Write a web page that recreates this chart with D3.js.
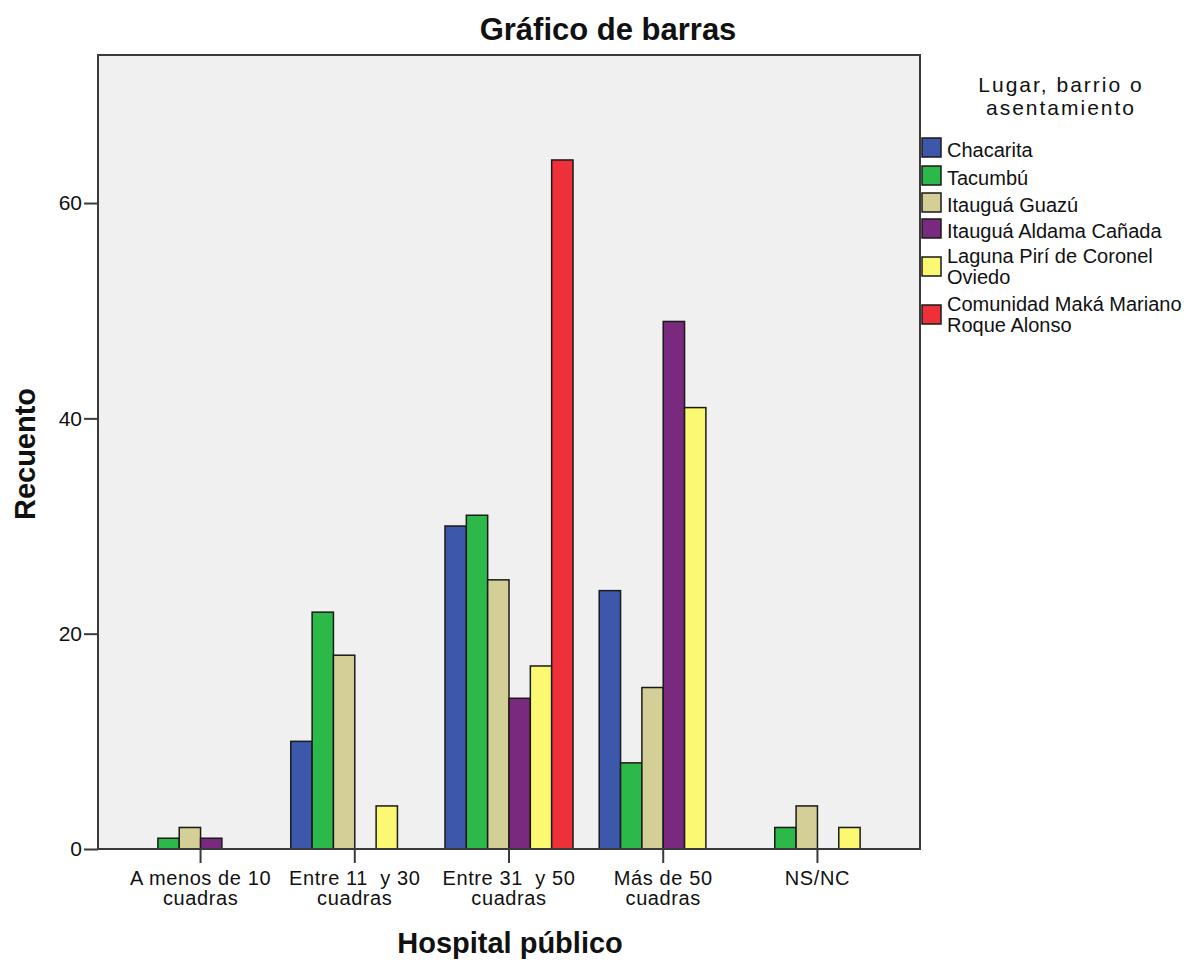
<!DOCTYPE html>
<html>
<head>
<meta charset="utf-8">
<script src="https://cdn.jsdelivr.net/npm/d3@7"></script>
<style>
  body { margin: 0; background: #fff; }
  text { font-family: "Liberation Sans", Arial, sans-serif; fill: #111; }
</style>
</head>
<body>
<div id="chart"></div>
<script>
// categorias del eje x (cada una en dos lineas)
var categories = [
  ['A menos de 10', 'cuadras'],
  ['Entre 11  y 30', 'cuadras'],
  ['Entre 31  y 50', 'cuadras'],
  ['Más de 50', 'cuadras'],
  ['NS/NC']
]
var seriesNames = [
  ['Chacarita'],
  ['Tacumbú'],
  ['Itauguá Guazú'],
  ['Itauguá Aldama Cañada'],
  ['Laguna Pirí de Coronel', 'Oviedo'],
  ['Comunidad Maká Mariano', 'Roque Alonso']
]
var seriesColors = ['#3d57ab', '#2db84a', '#d4cf97', '#7a2a7e', '#fbf872', '#ee3039']

// recuentos por serie (una fila por lugar, una columna por categoria)
var chacarita = [0, 10, 30, 24, 0]
var tacumbu   = [1, 22, 31, 8, 2]
var guazu     = [2, 18, 25, 15, 4]
var aldama    = [1, 0, 14, 49, 0]
var laguna    = [0, 4, 17, 41, 2]
var maka      = [0, 0, 64, 0, 0]
var series = [chacarita, tacumbu, guazu, aldama, laguna, maka]

var yTicks = [0, 20, 40, 60]

;(function(){
  var width = 1193, height = 963
  var left = 98, right = 920, top = 55, bottom = 849

  var svg = d3.select('#chart').append('svg')
    .attr('width', width)
    .attr('height', height)

  var x = d3.scaleBand()
    .domain(d3.range(categories.length))
    .range([left, right])
    .paddingInner(0.17)
    .paddingOuter(0.25)

  var xs = d3.scaleBand()
    .domain(d3.range(series.length))
    .range([0, x.bandwidth()])

  var y = d3.scaleLinear().domain([0, 73.75]).range([bottom, top])

  // fondo del area de trazado
  svg.append('rect')
    .attr('x', left).attr('y', top)
    .attr('width', right - left).attr('height', bottom - top)
    .attr('fill', '#f0f0f0')

  // barras
  var rows = []
  series.forEach(function(vals, si){
    vals.forEach(function(v, ci){
      if (v > 0) rows.push({s: si, c: ci, v: v})
    })
  })

  svg.append('g').selectAll('rect')
    .data(rows)
    .enter().append('rect')
    .attr('x', function(d){ return x(d.c) + xs(d.s) })
    .attr('y', function(d){ return y(d.v) })
    .attr('width', xs.bandwidth())
    .attr('height', function(d){ return y(0) - y(d.v) })
    .attr('fill', function(d){ return seriesColors[d.s] })
    .attr('stroke', '#1a1a1a')
    .attr('stroke-width', 1.5)

  // marco
  svg.append('rect')
    .attr('x', left).attr('y', top)
    .attr('width', right - left).attr('height', bottom - top)
    .attr('fill', 'none')
    .attr('stroke', '#3a3a3a')
    .attr('stroke-width', 2)

  // eje y
  var yAxis = svg.append('g')
    .attr('transform', 'translate(' + left + ',0)')
    .call(d3.axisLeft(y).tickValues(yTicks).tickSize(14).tickPadding(2).tickSizeOuter(0))
  yAxis.select('.domain').remove()
  yAxis.selectAll('line').attr('stroke', '#3a3a3a').attr('stroke-width', 2)
  yAxis.selectAll('text')
    .attr('font-size', 21)
    .attr('font-family', '"Liberation Sans", Arial, sans-serif')
    .attr('fill', '#111')

  // eje x
  var xAxis = svg.append('g')
    .attr('transform', 'translate(0,' + bottom + ')')
    .call(d3.axisBottom(x).tickSize(14).tickSizeOuter(0).tickFormat(''))
  xAxis.select('.domain').remove()
  xAxis.selectAll('line').attr('stroke', '#3a3a3a').attr('stroke-width', 2)

  svg.append('g').selectAll('text')
    .data(categories)
    .enter().append('text')
    .attr('x', function(d, i){ return x(i) + x.bandwidth() / 2 })
    .attr('y', 885)
    .attr('text-anchor', 'middle')
    .attr('font-size', 20)
    .attr('letter-spacing', 0.6)
    .style('white-space', 'pre')
    .selectAll('tspan')
    .data(function(d){ return d })
    .enter().append('tspan')
    .attr('x', function(){ return this.parentNode.getAttribute('x') })
    .attr('dy', function(d, i){ return i ? 20 : 0 })
    .text(function(d){ return d })

  // titulos
  svg.append('text')
    .attr('x', 608).attr('y', 40)
    .attr('text-anchor', 'middle')
    .attr('font-size', 31).attr('font-weight', 'bold')
    .text('Gráfico de barras')

  svg.append('text')
    .attr('x', 510).attr('y', 953)
    .attr('text-anchor', 'middle')
    .attr('font-size', 29).attr('font-weight', 'bold')
    .text('Hospital público')

  svg.append('text')
    .attr('transform', 'translate(35,454) rotate(-90)')
    .attr('text-anchor', 'middle')
    .attr('font-size', 29).attr('font-weight', 'bold')
    .text('Recuento')

  // leyenda
  var legend = svg.append('g')
  legend.append('text')
    .attr('text-anchor', 'middle')
    .attr('font-size', 21)
    .attr('letter-spacing', 2)
    .selectAll('tspan')
    .data(['Lugar, barrio o', 'asentamiento'])
    .enter().append('tspan')
    .attr('x', 1061)
    .attr('y', function(d, i){ return i ? 115 : 92 })
    .text(function(d){ return d })

  var swatchTop = [138, 166, 193, 219, 257, 305]
  var items = legend.selectAll('g.item')
    .data(seriesNames)
    .enter().append('g')
    .attr('class', 'item')
    .attr('transform', function(d, i){ return 'translate(922,' + swatchTop[i] + ')' })

  items.append('rect')
    .attr('x', 0).attr('y', 0)
    .attr('width', 19).attr('height', 19)
    .attr('fill', function(d, i){ return seriesColors[i] })
    .attr('stroke', '#1a1a1a')
    .attr('stroke-width', 1.5)

  // cada linea de la leyenda en su propio texto
  items.each(function(d){
    var g = d3.select(this)
    d.forEach(function(t, i){
      g.append('text')
        .attr('font-size', 20)
        .attr('x', 25)
        .attr('y', d.length > 1 ? 6 + i * 20.5 : 19)
        .text(t)
    })
  })
})()
</script>
</body>
</html>
